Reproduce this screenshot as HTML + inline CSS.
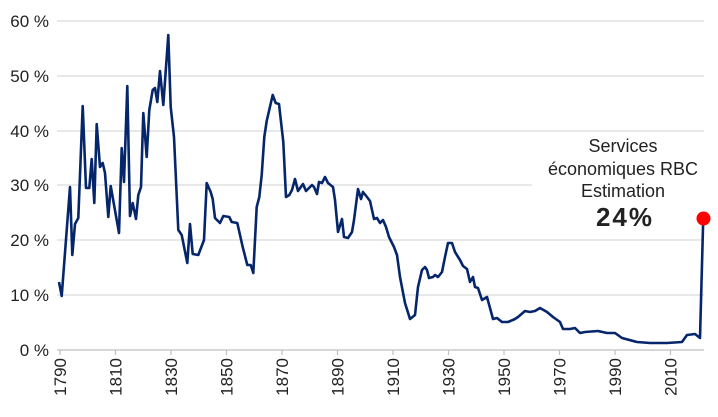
<!DOCTYPE html>
<html><head><meta charset="utf-8"><style>
html,body{margin:0;padding:0;background:#fff;}
svg{display:block;font-family:"Liberation Sans",sans-serif;}
</style></head><body>
<svg width="718" height="417" viewBox="0 0 718 417" xmlns="http://www.w3.org/2000/svg">
<g stroke="#d9d9d9" stroke-width="1.2">
<line x1="57" y1="21" x2="704" y2="21"/>
<line x1="57" y1="76" x2="704" y2="76"/>
<line x1="57" y1="131" x2="704" y2="131"/>
<line x1="57" y1="185" x2="532" y2="185"/>
<line x1="57" y1="240" x2="704" y2="240"/>
<line x1="57" y1="295" x2="704" y2="295"/>
</g>
<line x1="57" y1="350" x2="704" y2="350" stroke="#bfbfbf" stroke-width="1.2"/>
<g stroke="#bfbfbf" stroke-width="1.2">
<line x1="60" y1="350" x2="60" y2="355"/><line x1="115.5" y1="350" x2="115.5" y2="355"/><line x1="171" y1="350" x2="171" y2="355"/><line x1="226.5" y1="350" x2="226.5" y2="355"/><line x1="282" y1="350" x2="282" y2="355"/><line x1="337.5" y1="350" x2="337.5" y2="355"/><line x1="393" y1="350" x2="393" y2="355"/><line x1="448.5" y1="350" x2="448.5" y2="355"/><line x1="504" y1="350" x2="504" y2="355"/><line x1="559.5" y1="350" x2="559.5" y2="355"/><line x1="615" y1="350" x2="615" y2="355"/><line x1="670.5" y1="350" x2="670.5" y2="355"/>
</g>
<g font-size="17" fill="#222" text-anchor="end">
<text x="49" y="27">60 %</text><text x="49" y="82">50 %</text><text x="49" y="137">40 %</text><text x="49" y="191">30 %</text><text x="49" y="246">20 %</text><text x="49" y="301">10 %</text><text x="49" y="356">0 %</text>
</g>
<g font-size="17" fill="#222" text-anchor="end">
<text transform="translate(66,358) rotate(-90)">1790</text>
<text transform="translate(121.5,358) rotate(-90)">1810</text>
<text transform="translate(177,358) rotate(-90)">1830</text>
<text transform="translate(232.5,358) rotate(-90)">1850</text>
<text transform="translate(288,358) rotate(-90)">1870</text>
<text transform="translate(343.5,358) rotate(-90)">1890</text>
<text transform="translate(399,358) rotate(-90)">1910</text>
<text transform="translate(454.5,358) rotate(-90)">1930</text>
<text transform="translate(510,358) rotate(-90)">1950</text>
<text transform="translate(565.5,358) rotate(-90)">1970</text>
<text transform="translate(621,358) rotate(-90)">1990</text>
<text transform="translate(676.5,358) rotate(-90)">2010</text>
</g>
<polyline fill="none" stroke="#06266b" stroke-width="2.6" stroke-linejoin="round" points="59,282 61.7,296 70,187 72.3,255 75,224 78.3,218 82.7,106 86,188 89.3,188 91.7,159 94.3,203 96.7,124 100,167 102.7,163 105,173 108.3,217 110.7,186 119,233 121.7,148 124,182 127.3,86 130,216 132.7,203 136,219 138.3,195 141,187 143.3,113 146.7,157 149.3,110 152.7,90 155,88 157.3,102 160,71 163.3,105 168.3,35 170.7,107 174,137 178.3,230 181.7,235 187.3,263 190,224 192.7,254 198.3,255 204,240 206.7,183 210.7,192 212.7,199 215,218 220,223 223.3,216 229.3,217 231.7,222 237.3,223 242.7,247 247.3,265 250.7,265 253.3,273 256.7,207 259.3,197 261.7,175 264.3,137 266.7,121 272.7,95 275.7,103 279,104 283.3,142 286,197 289.3,195 292,190 295,179 298,191 303,184 306,191 312,185 314,187 317,194 319,182 322,183 325,177 328,183 333,187 335,200 338,232 342,219 344,237 348,238 352,232 354,220 358,189 361,199 363,192 367,197 370,201 374,219 377,218 380,223 383,220 386,227 389,237 394,247 397,255 400,277 405,303 410,319 415,315 418,287 422,270 425,267 427,270 429,278 433,277 435,275 438,277 442,272 445,257 448,243 452,243 455,252 460,260 463,266 467,269 470,282 473,277 475,287 478,288 482,300 487,297 490,308 493,319 497,318 502,322 508,322 515,319 518,317 525,311 530,312 535,311 540,308 547,312 553,317 560,322 563,329 570,329 575,328 580,333 585,332 598,331 607,333 615,333 622,338 637,342 650,343 667,343 682,342 687,335 695,334 700,338 703,227 703.5,219"/>
<circle cx="703.5" cy="218.5" r="7" fill="#ff0000"/>
<g font-size="18" fill="#222" text-anchor="middle">
<text x="623" y="152">Services</text>
<text x="623" y="175">économiques RBC</text>
<text x="623" y="197">Estimation</text>
<text x="625" y="226" font-size="26" font-weight="bold" letter-spacing="2">24%</text>
</g>
</svg>
</body></html>
